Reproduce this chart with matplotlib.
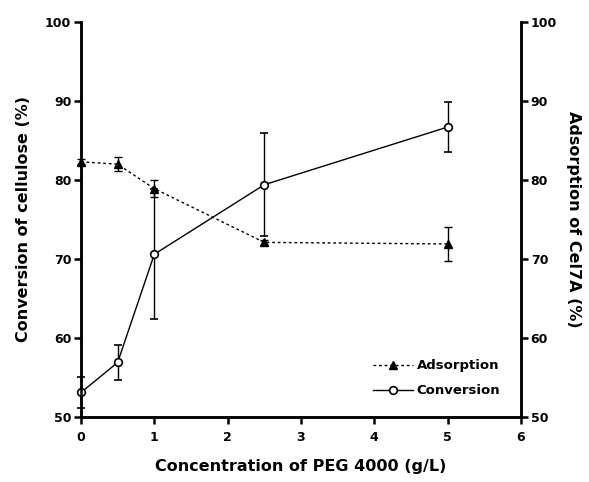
import numpy as np
import matplotlib.pyplot as plt
from matplotlib.lines import Line2D

plt.rcParams['font.family'] = ['DejaVu Sans']
plt.rcParams['font.weight'] = 'bold'

# PEG 4000 concentration (g/L)
peg = [0, 0.5, 1, 2.5, 5]

# conversion of cellulose (%)
conversion = [53.1, 56.9, 70.6, 79.4, 86.7]
conversion_err = [2.0, 2.2, 8.2, 6.5, 3.2]

# adsorption of Cel7A (%)
adsorption = [82.3, 82.0, 78.9, 72.1, 71.9]
adsorption_err = [0.3, 0.85, 1.1, 0.3, 2.1]

fig = plt.figure(figsize=(5.89, 4.82), dpi=100)
ax = fig.add_axes([0.1375, 0.1349, 0.747, 0.8195])
ax2 = ax.twinx()

ax.errorbar(peg, conversion, yerr=conversion_err, color='black', linestyle='-',
            linewidth=1.0, marker='o', markersize=5.5, markerfacecolor='white',
            markeredgewidth=1.2, capsize=3, elinewidth=1.0, capthick=1.0,
            clip_on=False, zorder=3)
ax.errorbar(peg, adsorption, yerr=adsorption_err, color='black', linestyle=(0, (2, 2)),
            linewidth=1.0, marker='^', markersize=5.5, markerfacecolor='black',
            capsize=3, elinewidth=1.0, capthick=1.0, clip_on=False, zorder=4)

ax.set_xlim(0, 6)
ax.set_ylim(50, 100)
ax2.set_ylim(50, 100)
ax.set_xticks(range(0, 7))
ax.set_yticks(range(50, 101, 10))
ax2.set_yticks(range(50, 101, 10))

for a in (ax, ax2):
    a.spines['top'].set_visible(False)
    for s in a.spines.values():
        s.set_linewidth(1.8)
    a.tick_params(width=1.8, length=5, labelsize=9, pad=2)
ax.tick_params(axis='x', pad=5)

ax.set_xlabel('Concentration of PEG 4000 (g/L)', fontsize=11.5, fontweight='bold', labelpad=11)
ax.set_ylabel('Conversion of cellulose (%)', fontsize=11.5, fontweight='bold', labelpad=10)
ax2.set_ylabel('Adsorption of Cel7A (%)', fontsize=11.5, fontweight='bold', rotation=270, labelpad=17)

handles = [
    Line2D([], [], color='black', linestyle=(0, (2, 2)), linewidth=1.0, marker='^',
           markersize=5.5, markerfacecolor='black'),
    Line2D([], [], color='black', linestyle='-', linewidth=1.0, marker='o',
           markersize=5.5, markerfacecolor='white', markeredgewidth=1.2),
]
ax.legend(handles, ['Adsorption', 'Conversion'], loc='lower right',
          bbox_to_anchor=(0.98, 0.02), frameon=False, fontsize=9.5,
          handlelength=3.0, handletextpad=0.3, labelspacing=0.9)

fig.savefig('out.png', dpi=100)
